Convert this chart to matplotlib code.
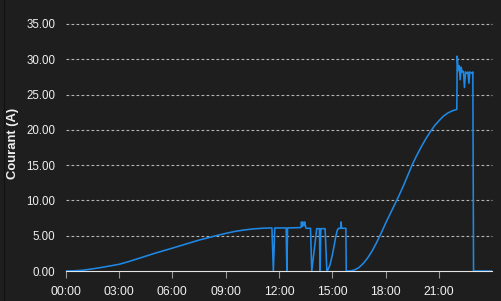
import matplotlib
matplotlib.use("Agg")
import matplotlib.pyplot as plt
from matplotlib.lines import Line2D

# time of day (hours) and current (A)
hours = [0.0, 0.5, 1.0, 1.5, 2.0, 2.5, 3.0, 3.5, 4.0, 4.5, 5.0, 5.5, 6.0, 6.5, 7.0,
         7.5, 8.0, 8.5, 9.0, 9.5, 10.0, 10.5, 11.0, 11.5, 11.6,
         11.68, 11.76, 12.4, 12.44, 12.48, 13.2,
         13.24, 13.26, 13.3, 13.34, 13.4, 13.44, 13.5, 13.52, 13.77,
         13.84, 14.12, 14.27, 14.31, 14.35, 14.59, 14.69,
         14.72, 14.87, 15.0, 15.1, 15.2, 15.28, 15.35, 15.47, 15.49, 15.52, 15.76, 15.78,
         16.0, 16.25, 16.5, 16.75, 17.0, 17.25, 17.5, 17.75, 18.0, 18.25, 18.5, 18.75,
         19.0, 19.25, 19.5, 19.75, 20.0, 20.25, 20.5, 20.75, 21.0, 21.25, 21.5, 21.75, 22.0,
         22.02, 22.08, 22.13, 22.19, 22.24, 22.3, 22.37, 22.43, 22.49, 22.57, 22.62,
         22.68, 22.73, 22.81, 22.86, 22.9, 22.94, 23.95]
current = [0.0, 0.03, 0.12, 0.3, 0.5, 0.72, 0.95, 1.3, 1.7, 2.1, 2.5, 2.87, 3.24, 3.62, 4.0,
           4.38, 4.7, 5.03, 5.33, 5.6, 5.8, 5.95, 6.05, 6.1, 6.1,
           0.0, 6.1, 6.1, 0.0, 6.1, 6.15,
           6.2, 6.95, 6.3, 6.95, 6.4, 6.95, 6.2, 6.05, 6.05,
           0.0, 6.0, 6.0, 0.0, 6.0, 6.0, 0.0,
           0.0, 0.9, 2.3, 3.6, 5.0, 5.8, 6.05, 6.05, 6.95, 6.05, 6.05, 0.0,
           0.0, 0.15, 0.5, 1.1, 1.9, 2.9, 4.1, 5.4, 6.8, 8.1, 9.4, 10.7,
           12.1, 13.6, 15.1, 16.4, 17.6, 18.7, 19.7, 20.6, 21.3, 21.95, 22.4, 22.7, 22.9,
           30.45, 28.4, 29.1, 27.1, 28.9, 28.2, 28.3, 26.0, 28.2, 28.0, 28.2,
           26.6, 28.2, 28.1, 28.0, 28.2, 0.0, 0.0]

x_ticks = [0, 3, 6, 9, 12, 15, 18, 21]
x_labels = ["00:00", "03:00", "06:00", "09:00", "12:00", "15:00", "18:00", "21:00"]
y_ticks = [0, 5, 10, 15, 20, 25, 30, 35]

bg = "#1e1e1e"
fig = plt.figure(figsize=(5.01, 3.01), dpi=100, facecolor=bg)
plt.rcParams["font.family"] = ["Liberation Sans", "DejaVu Sans"]

W, H = 501, 301
left, right, top, bottom = 65.7, 491.5, 24, 271
ax = fig.add_axes([left / W, (H - bottom) / H, (right - left) / W, (bottom - top) / H])
ax.set_facecolor(bg)

ax.plot(hours, current, color="#1e88e5", lw=1.15, zorder=3)

ax.set_xlim(0, 23.95)
ax.set_ylim(0, 35)
ax.set_xticks(x_ticks)
ax.set_xticklabels(x_labels)
ax.set_yticks(y_ticks)
ax.set_yticklabels([f"{v:.2f}" for v in y_ticks])

for s in ["top", "right", "left"]:
    ax.spines[s].set_visible(False)
ax.spines["bottom"].set_color("#e6e6e6")
ax.spines["bottom"].set_linewidth(0.8)

ax.tick_params(axis="x", colors="#9a9a9a", length=5, width=0.8, pad=6,
               labelcolor="#f0f0f0", labelsize=8.8)
ax.tick_params(axis="y", length=0, pad=7.5, labelcolor="#f0f0f0", labelsize=8.3)

for v in y_ticks[1:]:
    ax.axhline(v, color="#b5b5b5", lw=0.8, ls=(0, (2.5, 2.0)), zorder=1, clip_on=False)

fig.text(13 / W, 1 - 143.5 / H, "Courant (A)", rotation=90, color="#f0f0f0",
         fontsize=9.4, fontweight="bold", ha="center", va="center")

# thin darker border line at the left edge
fig.add_artist(Line2D([3.5 / W, 3.5 / W], [0, 1], color="#111111", lw=0.8,
                      transform=fig.transFigure))

fig.savefig("out.png", dpi=100, facecolor=bg)
